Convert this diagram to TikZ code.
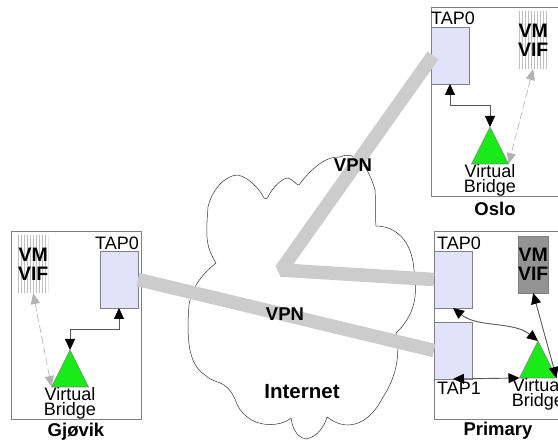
\documentclass[tikz,border=0pt]{standalone}
\usepackage{fontspec}
\setmainfont{Liberation Sans}
\usetikzlibrary{arrows.meta,patterns,shapes.geometric}
\definecolor{tapblue}{RGB}{226,226,250}
\definecolor{bridgegreen}{RGB}{24,235,24}
\definecolor{vpngray}{RGB}{204,204,204}

\begin{document}
\begin{tikzpicture}[x=1pt,y=-1pt]
  \tikzset{SiteStyle/.style={draw=gray,line width=1pt,anchor=north west,inner sep=0pt,outer sep=0pt},
    TapStyle/.style={draw=gray,line width=0.8pt,fill=tapblue,anchor=north west,inner sep=0pt,outer sep=0pt,minimum width=38pt,minimum height=57pt},
    VmStyle/.style={anchor=north west,inner sep=0pt,outer sep=0pt,minimum width=30pt,minimum height=57pt,align=center,font=\fontsize{19.5}{19}\selectfont\bfseries},
    VmIdle/.style={VmStyle,pattern=vertical lines,pattern color=gray!50},
    VmBusy/.style={VmStyle,draw=gray,line width=0.8pt,fill=gray!85},
    BridgeStyle/.style={shape=isosceles triangle,shape border rotate=90,isosceles triangle stretches,draw=gray,line width=0.6pt,fill=bridgegreen,anchor=apex,inner sep=0pt,outer sep=0pt,minimum width=37pt,minimum height=37pt},
    TextStyle/.style={inner sep=0pt,font=\fontsize{18}{15}\selectfont,align=center},
    TitleStyle/.style={inner sep=0pt,font=\fontsize{18.5}{20}\selectfont\bfseries},
    VpnStyle/.style={vpngray,line width=13.5pt,line join=bevel},
    LinkStyle/.style={draw=black!65,line width=0.9pt,{Triangle[length=11pt,width=10pt,color=black]}-{Triangle[length=11pt,width=10pt,color=black]}},
    IdleStyle/.style={draw=gray!50,line width=0.8pt,dash pattern=on 8pt off 3pt,{Triangle[length=11pt,width=9pt,color=gray!60]}-{Triangle[length=11pt,width=9pt,color=gray!60]}}
  }
  \useasboundingbox (0,0) rectangle (558,441);
  % the cloud
  \draw[black!80,line width=0.5pt,fill=white] (216,263)
    .. controls (205,245) and (206,235) .. (208,207)
    .. controls (212,190) and (225,175) .. (238,175)
    .. controls (250,178) and (260,190) .. (264,198)
    .. controls (268,200) and (266,198) .. (268,197)
    .. controls (272,188) and (282,178) .. (288,178)
    .. controls (294,180) and (296,185) .. (299,185)
    .. controls (310,170) and (325,156) .. (340,157)
    .. controls (355,150) and (368,165) .. (375,190)
    .. controls (376,205) and (375,215) .. (376,226)
    .. controls (395,226) and (412,240) .. (414,270)
    .. controls (418,295) and (415,315) .. (396,333)
    .. controls (400,350) and (398,375) .. (383,397)
    .. controls (372,420) and (350,435) .. (327,417)
    .. controls (325,425) and (318,437) .. (306,439)
    .. controls (295,437) and (292,425) .. (291,418)
    .. controls (280,428) and (245,430) .. (235,399)
    .. controls (225,378) and (215,385) .. (205,375)
    .. controls (190,365) and (186,345) .. (189,305)
    .. controls (192,285) and (205,272) .. (216,263);

  % Oslo
  \node[SiteStyle,minimum width=160pt,minimum height=189pt] (siteOslo) at (431,8) {};
  \node[TapStyle] (tapOslo) at (431,27) {};
  \node[VmIdle] (vmOslo) at (518,12) {VM\\VIF};
  \node[BridgeStyle] (bridgeOslo) at (490,127) {};
  \node[TextStyle] (tapLabelOslo) at (453,18) {TAP0};
  \node[TextStyle] (bridgeLabelOslo) at (490,180) {Virtual\\Bridge};
  \node[TitleStyle] (titleOslo) at (495,209) {Oslo};
  % Primary
  \node[SiteStyle,minimum width=160pt,minimum height=188pt] (sitePrimary) at (434,232) {};
  \node[TapStyle] (tapPrimary) at (434,251) {};
  \node[TapStyle] (tapOnePrimary) at (434,322) {};
  \node[VmBusy] (vmPrimary) at (518,236) {VM\\VIF};
  \node[BridgeStyle] (bridgePrimary) at (538,341) {};
  \node[TextStyle] (tapLabelPrimary) at (459,243) {TAP0};
  \node[TextStyle] (tapOneLabelPrimary) at (459,388) {TAP1};
  \node[TextStyle] (bridgeLabelPrimary) at (538,394) {Virtual\\Bridge};
  \node[TitleStyle] (titlePrimary) at (498,431) {Primary};
  % Gjovik
  \node[SiteStyle,minimum width=130pt,minimum height=188pt] (siteGjovik) at (11,232) {};
  \node[TapStyle] (tapGjovik) at (100,251) {};
  \node[VmIdle] (vmGjovik) at (18,236) {VM\\VIF};
  \node[BridgeStyle] (bridgeGjovik) at (70,350) {};
  \node[TextStyle] (tapLabelGjovik) at (117,243) {TAP0};
  \node[TextStyle] (bridgeLabelGjovik) at (70,403) {Virtual\\Bridge};
  \node[TitleStyle] (titleGjovik) at (76,432) {Gjøvik};

  \coordinate (hub) at (281,270);
  \draw[VpnStyle] ([xshift=2pt]tapOslo.west) -- (hub) -- (tapPrimary.west);
  \draw[VpnStyle] (tapGjovik.east) -- (tapOnePrimary.west);

  \draw[LinkStyle] (tapOslo.south) |- ++(0,21) -| (bridgeOslo.apex);
  \draw[LinkStyle] (tapGjovik.south) |- ++(0,21) -| (bridgeGjovik.apex);
  \draw[LinkStyle] (tapPrimary.south) .. controls +(25,20) and +(-25,-20) .. (bridgePrimary.apex);
  \draw[LinkStyle] (vmPrimary.south) -- (bridgePrimary.right corner);
  \draw[LinkStyle] (tapOnePrimary.south) -- (bridgePrimary.left corner);
  \draw[IdleStyle] (vmOslo.south) -- (bridgeOslo.right corner);
  \draw[IdleStyle] (vmGjovik.south) -- (bridgeGjovik.left corner);

  \node[TitleStyle] (vpnOslo) at (353,165) {VPN};
  \node[TitleStyle] (vpnGjovik) at (285,314) {VPN};
  \node[TitleStyle,font=\fontsize{20.5}{22}\selectfont\bfseries] (internet) at (302,392) {Internet};
\end{tikzpicture}
\end{document}
